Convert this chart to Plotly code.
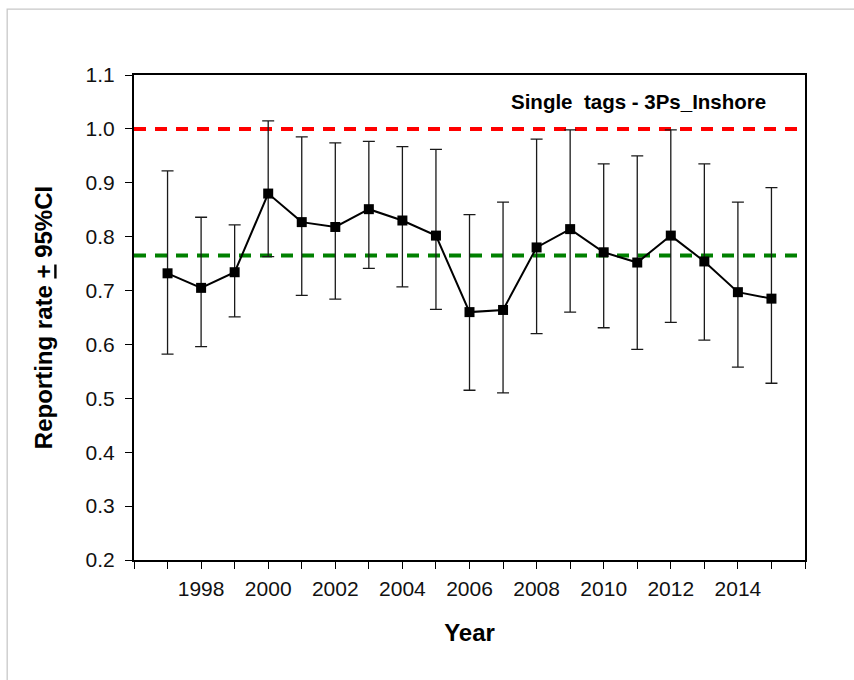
import plotly.graph_objects as go

years = list(range(1997, 2016))
rate = [0.732, 0.705, 0.734, 0.880, 0.827, 0.818, 0.851, 0.830, 0.802, 0.660,
        0.664, 0.780, 0.814, 0.771, 0.752, 0.802, 0.754, 0.697, 0.685]
upper = [0.922, 0.836, 0.822, 1.015, 0.985, 0.974, 0.977, 0.967, 0.962, 0.841,
         0.864, 0.981, 0.998, 0.935, 0.950, 0.998, 0.935, 0.864, 0.891]
lower = [0.582, 0.596, 0.651, 0.763, 0.691, 0.684, 0.741, 0.707, 0.665, 0.515,
         0.510, 0.620, 0.660, 0.631, 0.591, 0.641, 0.608, 0.558, 0.528]
ref_full = 1.0
ref_mean = 0.765
tick_years = list(range(1996, 2017))
tick_labels = [str(y) if (y % 2 == 0 and 1998 <= y <= 2014) else "" for y in tick_years]
y_ticks = [0.2, 0.3, 0.4, 0.5, 0.6, 0.7, 0.8, 0.9, 1.0, 1.1]
y_labels = ["0.2", "0.3", "0.4", "0.5", "0.6", "0.7", "0.8", "0.9", "1.0", "1.1"]

FONT = "Liberation Sans, Arial, sans-serif"

fig = go.Figure()

x_ref = [tick_years[0], tick_years[-1]]
fig.add_trace(go.Scatter(x=x_ref, y=[ref_full, ref_full], mode="lines",
                         line=dict(color="#FF0000", width=4, dash="12px,9px"),
                         hoverinfo="skip", showlegend=False))
fig.add_trace(go.Scatter(x=x_ref, y=[ref_mean, ref_mean], mode="lines",
                         line=dict(color="#008000", width=4, dash="12px,9px"),
                         hoverinfo="skip", showlegend=False))

fig.add_trace(go.Scatter(
    x=years, y=rate, mode="lines+markers",
    line=dict(color="#000000", width=2),
    marker=dict(symbol="square", size=10, color="#000000"),
    error_y=dict(type="data", symmetric=False,
                 array=[u - r for u, r in zip(upper, rate)],
                 arrayminus=[r - l for r, l in zip(rate, lower)],
                 color="#1a1a1a", thickness=1.3, width=6),
    showlegend=False))

fig.update_layout(
    width=854, height=680,
    margin=dict(l=134, r=49, t=75, b=120),
    paper_bgcolor="white", plot_bgcolor="white",
    font=dict(family=FONT, color="#000000", size=20),
    showlegend=False,
    xaxis=dict(range=[1996, 2016], tickvals=tick_years, ticktext=tick_labels,
               ticks="outside", ticklen=7, tickwidth=1.2, tickcolor="#000",
               showline=True, linecolor="#000", linewidth=2, mirror=True,
               showgrid=False, zeroline=False,
               tickfont=dict(family=FONT, size=21, color="#111"),
               ticklabelstandoff=2,
               title=dict(text="<b>Year</b>", font=dict(family=FONT, size=24), standoff=25)),
    yaxis=dict(range=[0.2, 1.1], tickvals=y_ticks, ticktext=y_labels,
               ticks="outside", ticklen=7, tickwidth=1.2, tickcolor="#000",
               showline=True, linecolor="#000", linewidth=2, mirror=True,
               showgrid=False, zeroline=False,
               tickfont=dict(family=FONT, size=21, color="#111"),
               ticklabelstandoff=6,
               title=dict(text="<b>Reporting rate <u>+</u> 95%CI</b>",
                          font=dict(family=FONT, size=24), standoff=26)),
    annotations=[dict(text="<b>Single  tags - 3Ps_Inshore</b>", xref="paper", yref="paper",
                      x=0.945, y=0.945, xanchor="right", yanchor="middle", showarrow=False,
                      font=dict(family=FONT, size=20.5, color="#000"))],
    shapes=[dict(type="rect", xref="paper", yref="paper", layer="below",
                 x0=-0.189, x1=1.2, y0=-0.5, y1=1.136,
                 line=dict(color="#c8c8c8", width=1.3))],
)

fig.write_html("out.html")
